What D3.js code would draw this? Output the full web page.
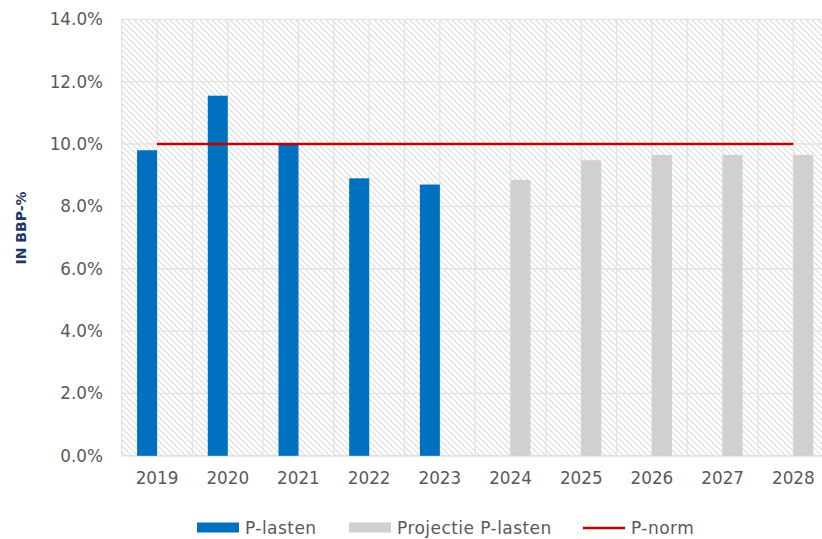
<!DOCTYPE html>
<html>
<head>
<meta charset="utf-8">
<script src="https://cdn.jsdelivr.net/npm/d3@7"></script>
<style>
  html, body { margin: 0; padding: 0; background: #fff; }
  svg { display: block; }
  text { font-family: "DejaVu Sans", sans-serif; }
</style>
</head>
<body>
<svg id="chart" width="822" height="539"></svg>
<script>
const years = ["2019","2020","2021","2022","2023","2024","2025","2026","2027","2028"];
const pLasten = [9.8, 11.55, 9.97, 8.9, 8.7, null, null, null, null, null];
const projectie = [null, null, null, null, null, 8.85, 9.48, 9.65, 9.65, 9.65];
const pNorm = [10, 10, 10, 10, 10, 10, 10, 10, 10, 10];
const yTicks = [0, 2, 4, 6, 8, 10, 12, 14];
const seriesNames = ["P-lasten", "Projectie P-lasten", "P-norm"];
const colors = { bar1: "#0070c0", bar2: "#d0d0d0", line: "#c00000" };

const svg = d3.select("#chart");
const plot = { left: 121.7, right: 828.7, top: 19.3, bottom: 455.8 };

const x = d3.scaleBand().domain(years).range([plot.left, plot.right]).paddingInner(0).paddingOuter(0);
const inner = d3.scaleBand().domain(["a", "b"]).range([0, x.bandwidth()]).paddingInner(0).paddingOuter(0.77);
const y = d3.scaleLinear().domain([0, 14]).range([plot.bottom, plot.top]);

// hatch pattern
const defs = svg.append("defs");
const pat = defs.append("pattern").attr("id", "hatch").attr("patternUnits", "userSpaceOnUse")
  .attr("width", 6).attr("height", 6);
pat.append("path").attr("d", "M0,0 L6,6 M-1,5 L1,7 M5,-1 L7,1")
  .attr("stroke", "#dadada").attr("stroke-width", 1.1).attr("fill", "none");

svg.append("rect").attr("x", plot.left).attr("y", plot.top)
  .attr("width", plot.right - plot.left).attr("height", plot.bottom - plot.top)
  .attr("fill", "url(#hatch)");

// horizontal gridlines
svg.append("g").selectAll("line").data(yTicks).join("line")
  .attr("x1", plot.left).attr("x2", plot.right)
  .attr("y1", d => y(d)).attr("y2", d => y(d))
  .attr("stroke", d => d === 0 ? "#d9d9d9" : "#e3e3e3").attr("stroke-width", 1.3);

// vertical gridlines (category boundaries and centres)
const vlines = [];
years.forEach(yr => { vlines.push(x(yr)); vlines.push(x(yr) + x.bandwidth() / 2); });
svg.append("g").selectAll("line").data(vlines).join("line")
  .attr("x1", d => d).attr("x2", d => d)
  .attr("y1", plot.top).attr("y2", plot.bottom)
  .attr("stroke", "#e3e3e3").attr("stroke-width", 1.3);

// bars
svg.append("g").selectAll("rect").data(years.map((yr, i) => ({ yr, v: pLasten[i] })).filter(d => d.v != null))
  .join("rect")
  .attr("x", d => x(d.yr) + inner("a")).attr("width", inner.bandwidth())
  .attr("y", d => y(d.v)).attr("height", d => y(0) - y(d.v))
  .attr("fill", colors.bar1);

svg.append("g").selectAll("rect").data(years.map((yr, i) => ({ yr, v: projectie[i] })).filter(d => d.v != null))
  .join("rect")
  .attr("x", d => x(d.yr) + inner("b")).attr("width", inner.bandwidth())
  .attr("y", d => y(d.v)).attr("height", d => y(0) - y(d.v))
  .attr("fill", colors.bar2);

// P-norm line
const line = d3.line().x(d => x(d.yr) + x.bandwidth() / 2).y(d => y(d.v));
svg.append("path").datum(years.map((yr, i) => ({ yr, v: pNorm[i] })))
  .attr("d", line).attr("fill", "none").attr("stroke", colors.line).attr("stroke-width", 2.6);

// y axis
const yAxis = d3.axisLeft(y).tickValues(yTicks).tickSize(0).tickPadding(0)
  .tickFormat(d => d3.format(".1f")(d) + "%");
const gy = svg.append("g").attr("transform", `translate(103,0)`).call(yAxis);
gy.select(".domain").remove();
gy.selectAll("text").attr("fill", "#595959").style("font-size", "16.8px")
  .style("font-family", "DejaVu Sans, sans-serif");

// x axis
const xAxis = d3.axisBottom(x).tickSize(0).tickPadding(0);
const gx = svg.append("g").attr("transform", `translate(0,472)`).call(xAxis);
gx.select(".domain").remove();
gx.selectAll("text").attr("fill", "#595959").style("font-size", "16.8px")
  .style("font-family", "DejaVu Sans, sans-serif");

// y title
svg.append("text").attr("transform", "translate(25.5,228) rotate(-90)")
  .attr("text-anchor", "middle").attr("fill", "#1f3864")
  .style("font-size", "14px").style("font-weight", "bold").text("IN BBP-%");

// legend
const leg = svg.append("g");
const legItems = [
  { name: seriesNames[0], type: "rect", color: colors.bar1, x: 197 },
  { name: seriesNames[1], type: "rect", color: colors.bar2, x: 349 },
  { name: seriesNames[2], type: "line", color: colors.line, x: 583 }
];
legItems.forEach(it => {
  if (it.type === "rect") {
    leg.append("rect").attr("x", it.x).attr("y", 522.5).attr("width", 42).attr("height", 10).attr("fill", it.color);
  } else {
    leg.append("line").attr("x1", it.x).attr("x2", it.x + 42).attr("y1", 528).attr("y2", 528)
      .attr("stroke", it.color).attr("stroke-width", 2.6);
  }
  leg.append("text").attr("x", it.x + 48).attr("y", 528).attr("dy", "0.35em")
    .attr("fill", "#595959").style("font-size", "17px").style("letter-spacing", "0.45px").text(it.name);
});
</script>
</body>
</html>
